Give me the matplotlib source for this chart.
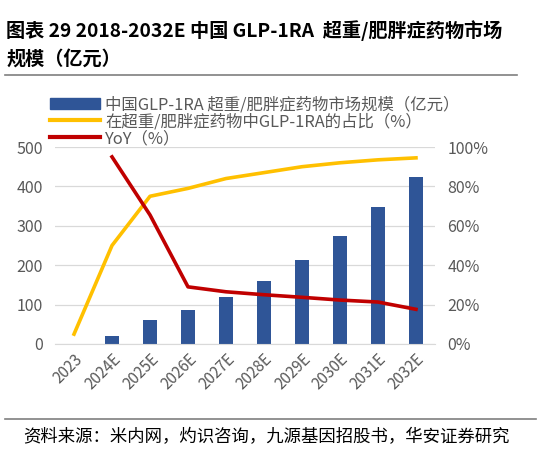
import numpy as np
import matplotlib.pyplot as plt
from matplotlib.lines import Line2D
from matplotlib.patches import Patch

plt.rcParams['font.family'] = ['Noto Sans CJK SC', 'DejaVu Sans']

years = ['2023', '2024E', '2025E', '2026E', '2027E', '2028E', '2029E', '2030E', '2031E', '2032E']
market = [np.nan, 20, 61, 87, 120, 161, 212, 273, 348, 425]
share = [5, 50, 75, 79, 84, 87, 90, 92, 93.5, 94.5]
yoy = [np.nan, 95, 65.5, 29, 26.5, 25, 23.7, 22.3, 21.3, 17.6]

blue = '#2F5597'
yellow = '#FFC000'
red = '#C00000'
gray = '#595959'

fig = plt.figure(figsize=(5.41, 4.51), dpi=100)
ax = fig.add_axes([0.1017, 0.2373, 0.7023, 0.4367])
ax2 = ax.twinx()

x = np.arange(len(years))
ax.bar(x, market, width=0.39, color=blue, zorder=2)
ax2.plot(x, share, color=yellow, lw=2.6, zorder=3)
ax2.plot(x, yoy, color=red, lw=2.6, zorder=4)

ax.set_xlim(-0.5, 9.5)
ax.set_ylim(0, 500)
ax2.set_ylim(0, 100)
ax.set_yticks(np.arange(0, 501, 100))
ax2.set_yticks(np.arange(0, 101, 20))
ax2.set_yticklabels([f'{v}%' for v in range(0, 101, 20)])
ax.grid(axis='y', color='#D9D9D9', lw=0.9, zorder=0)
ax.set_axisbelow(True)
ax.set_xticks(x)
ax.set_xticklabels(years, rotation=45, ha='right', rotation_mode='anchor')

for a in (ax, ax2):
    for s in a.spines.values():
        s.set_visible(False)
    a.tick_params(length=0, labelsize=11.5, labelcolor=gray)
ax.spines['bottom'].set_visible(True)
ax.spines['bottom'].set_color('#D9D9D9')
ax.tick_params(axis='x', pad=5, labelsize=11)
ax.tick_params(axis='y', pad=9)
ax2.tick_params(axis='y', pad=9)

handles = [Patch(color=blue),
           Line2D([], [], color=yellow, lw=3),
           Line2D([], [], color=red, lw=3)]
labels = ['中国GLP-1RA 超重/肥胖症药物市场规模（亿元）',
          '在超重/肥胖症药物中GLP-1RA的占比（%）',
          'YoY（%）']
fig.legend(handles, labels, loc='upper left', bbox_to_anchor=(0.078, 0.805),
           frameon=False, fontsize=11.8, labelcolor=gray, handlelength=3.0,
           handleheight=0.7, labelspacing=0.0, handletextpad=0.35, borderpad=0)

fig.text(0.012, 0.933, '图表 29 2018-2032E 中国 GLP-1RA  超重/肥胖症药物市场',
         fontsize=13.8, fontweight='bold', va='center')
fig.text(0.012, 0.87, '规模（亿元）', fontsize=13.8, fontweight='bold', va='center')
fig.add_artist(Line2D([0.009, 0.955], [0.834, 0.834], color='#7F7F7F', lw=1.2))
fig.add_artist(Line2D([0.009, 0.99], [0.071, 0.071], color='#7F7F7F', lw=1.2))
fig.text(0.042, 0.03, '资料来源：米内网，灼识咨询，九源基因招股书，华安证券研究',
         fontsize=12.5, va='center')

fig.savefig('out.png', dpi=100)
